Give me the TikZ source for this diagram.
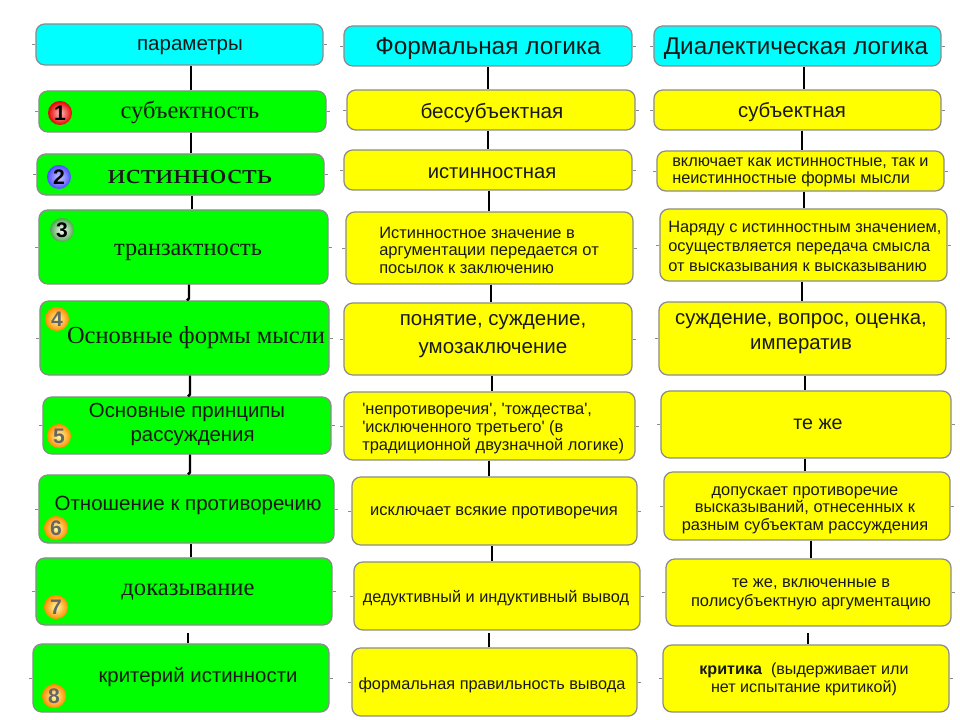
\documentclass[tikz,border=0pt]{standalone}
\usepackage{fontspec}
\setmainfont{Liberation Sans}
\newfontfamily\timescyr{Liberation Serif}
\usetikzlibrary{calc}

\newcommand{\fs}[2]{\fontsize{#1}{#2}\selectfont}

\definecolor{headcol}{RGB}{0,255,255}
\definecolor{greencol}{RGB}{0,255,0}
\definecolor{yellowcol}{RGB}{255,255,0}
\definecolor{edgecol}{RGB}{140,140,140}

\tikzset{
  box/.style={draw=edgecol, line width=0.9pt, rounded corners=0.22cm, inner sep=0pt},
  headbox/.style={box, fill=headcol},
  greenbox/.style={box, fill=greencol},
  yellowbox/.style={box, fill=yellowcol},
  lbl/.style={inner sep=0pt, align=center, text=black!90, yshift=-1.5pt},
  link/.style={line width=1.7pt, black},
  stub/.style={line width=0.4pt, edgecol},
  numball/.style={circle, shading=radial, minimum size=0.6cm, inner sep=0pt, font=\bfseries\fontsize{15}{15}\selectfont},
  orangeball/.style={numball, inner color=yellow!35!white, outer color=orange!90!yellow, text=black!60}
}

\begin{document}
\begin{tikzpicture}[x=0.025cm,y=-0.025cm]
\useasboundingbox (0,0) rectangle (960,720);

% first column
\node[headbox, minimum width=7.175cm, minimum height=1.025cm] (p0) at (179.5,44.5) {};
\node[greenbox, minimum width=7.175cm, minimum height=1.025cm] (p1) at (182.5,111.5) {};
\node[greenbox, minimum width=7.175cm, minimum height=1.025cm] (p2) at (180.5,174.5) {};
\node[greenbox, minimum width=7.225cm, minimum height=1.85cm] (p3) at (183.5,247) {};
\node[greenbox, minimum width=7.225cm, minimum height=1.85cm] (p4) at (184.5,338) {};
\node[greenbox, minimum width=7.2cm, minimum height=1.425cm] (p5) at (187,425.5) {};
\node[greenbox, minimum width=7.375cm, minimum height=1.7cm] (p6) at (186.5,509) {};
\node[greenbox, minimum width=7.4cm, minimum height=1.675cm] (p7) at (184,591.5) {};
\node[greenbox, minimum width=7.4cm, minimum height=1.7cm] (p8) at (181,678) {};

% second column
\node[headbox, minimum width=7.2cm, minimum height=1cm] (a0) at (488,46) {};
\node[yellowbox, minimum width=7.2cm, minimum height=1cm] (a1) at (491,110) {};
\node[yellowbox, minimum width=7.2cm, minimum height=1cm] (a2) at (488,170) {};
\node[yellowbox, minimum width=7.175cm, minimum height=1.8cm] (a3) at (489.5,248) {};
\node[yellowbox, minimum width=7.2cm, minimum height=1.8cm] (a4) at (488,339) {};
\node[yellowbox, minimum width=7.275cm, minimum height=1.7cm] (a5) at (489.5,426) {};
\node[yellowbox, minimum width=7.125cm, minimum height=1.7cm] (a6) at (494.5,511) {};
\node[yellowbox, minimum width=7.15cm, minimum height=1.7cm] (a7) at (497,596) {};
\node[yellowbox, minimum width=7.125cm, minimum height=1.7cm] (a8) at (494.5,682) {};

% third column
\node[headbox, minimum width=7.175cm, minimum height=1cm] (b0) at (797.5,46) {};
\node[yellowbox, minimum width=7.175cm, minimum height=1cm] (b1) at (797.5,110) {};
\node[yellowbox, minimum width=7.175cm, minimum height=1cm] (b2) at (800.5,171) {};
\node[yellowbox, minimum width=7.175cm, minimum height=1.8cm] (b3) at (803.5,245) {};
\node[yellowbox, minimum width=7.175cm, minimum height=1.825cm] (b4) at (802.5,338.5) {};
\node[yellowbox, minimum width=7.25cm, minimum height=1.675cm] (b5) at (806,424.5) {};
\node[yellowbox, minimum width=7.15cm, minimum height=1.7cm] (b6) at (807,506) {};
\node[yellowbox, minimum width=7.125cm, minimum height=1.675cm] (b7) at (808.5,592.5) {};
\node[yellowbox, minimum width=7.15cm, minimum height=1.675cm] (b8) at (806,678.5) {};

% small ticks at the sides
\foreach \n in {p0,p1,p2,p3,p4,p5,p6,p7,p8,a0,a1,a2,a3,a4,a5,a6,a7,a8,b0,b1,b2,b3,b4,b5,b6,b7,b8}
{
\draw[stub] (\n.west) -- ++(-3,0);
\draw[stub] (\n.east) -- ++(3,0);
}

% links between the boxes
\foreach \s/\t/\xa/\xb in {p0/p1/191/191, p1/p2/191/191, p2/p3/192/192, p3/p4/189/187, p4/p5/190/188, p5/p6/190/188, p6/p7/191/191,
  a0/a1/488/488, a1/a2/488/488, a2/a3/489/489, a3/a4/491/491, a4/a5/492/492, a5/a6/489/489, a6/a7/492/492,
  b0/b1/804/804, b1/b2/802/802, b2/b3/804/804, b3/b4/802/802, b4/b5/805/805, b5/b6/805/805, b6/b7/811/811}
  \draw[link] (\s.south -| \xa,0) -- ($(\t.north -| \xa,0)+(0,-2)$) -- (\t.north -| \xb,0);
\draw[link] (p8.north -| 188,0) -- ++(0,-10);
\draw[link] (a8.north -| 489,0) -- ++(0,-14);
\draw[link] (b8.north -| 808,0) -- ++(0,-11);

% numbers
\node[numball, inner color=red!25!white, outer color=red!90!black] (n1) at (60,113) {1};
\node[numball, inner color=blue!20!white, outer color=blue!70!white] (n2) at (59,177) {2};
\node[numball, inner color=white, outer color=green!50!black!70!white] (n3) at (62,230) {3};
\node[orangeball] (n4) at (57,319) {4};
\node[orangeball] (n5) at (59,436) {5};
\node[orangeball] (n6) at (56,528) {6};
\node[orangeball] (n7) at (56,607) {7};
\node[orangeball] (n8) at (54,696) {8};

% first column texts
\node[lbl, font=\fs{14.6}{17}] (tp0) at (190,45) {параметры};
\node[lbl, font=\timescyr\fs{17.4}{20}] (tp1) at (190,110) {субъектность};
\node[lbl, font=\timescyr\fs{20}{22}\addfontfeature{FakeStretch=1.2}] (tp2) at (190,175) {истинность};
\node[lbl, font=\timescyr\fs{17.3}{20}] (tp3) at (188,250) {транзактность};
\node[lbl, font=\timescyr\fs{17.4}{20}] (tp4) at (196,336) {Основные формы мысли};
\node[lbl, font=\fs{14.5}{17}] (tp5) at (187,422) {Основные принципы\\\ \ рассуждения};
\node[lbl, font=\fs{14.6}{17}] (tp6) at (188,503) {Отношение к противоречию};
\node[lbl, font=\timescyr\fs{17.5}{20}] (tp7) at (188,590) {доказывание};
\node[lbl, font=\fs{14.5}{17}] (tp8) at (198,675) {критерий истинности};

% second column texts
\node[lbl, font=\fs{17.35}{20}] (ta0) at (488,46) {Формальная логика};
\node[lbl, font=\fs{14.7}{17}] (ta1) at (492,111) {бессубъектная};
\node[lbl, font=\fs{14.4}{17}] (ta2) at (492,171) {истинностная};
\node[lbl, font=\fs{11.7}{12.4}, anchor=west, align=left] (ta3) at (379,248) {Истинностное значение в\\аргументации передается от\\посылок к заключению};
\node[lbl, font=\fs{14.6}{20}] (ta4) at (493,334) {понятие, суждение,\\умозаключение};
\node[lbl, font=\fs{11.7}{13}, anchor=west, align=left] (ta5) at (362,426.5) {\textquotesingle непротиворечия\textquotesingle, \textquotesingle тождества\textquotesingle,\\\textquotesingle исключенного третьего\textquotesingle\ (в\\традиционной двузначной логике)};
\node[lbl, font=\fs{11.76}{14}] (ta6) at (494,511) {исключает всякие противоречия};
\node[lbl, font=\fs{11.6}{14}] (ta7) at (496,596) {дедуктивный и индуктивный вывод};
\node[lbl, font=\fs{11.6}{14}] (ta8) at (492,683) {формальная правильность вывода};

% third column texts
\node[lbl, font=\fs{17.25}{20}] (tb0) at (796,46) {Диалектическая логика};
\node[lbl, font=\fs{14.5}{17}] (tb1) at (792,110) {субъектная};
\node[lbl, font=\fs{11.6}{12.2}, anchor=west, align=left] (tb2) at (672,170.5) {включает как истинностные, так и\\неистинностные формы мысли};
\node[lbl, font=\fs{11.64}{13.9}, anchor=west, align=left] (tb3) at (668,244) {Наряду с истинностным значением,\\осуществляется передача смысла\\от высказывания к высказыванию};
\node[lbl, font=\fs{14.5}{17.8}] (tb4) at (801,332) {суждение, вопрос, оценка,\\императив};
\node[lbl, font=\fs{14}{16}] (tb5) at (818,422) {те же};
\node[lbl, font=\fs{11.66}{12.4}] (tb6) at (805,508) {допускает противоречие\\высказываний, отнесенных к\\разным субъектам рассуждения};
\node[lbl, font=\fs{11.7}{13.5}] (tb7) at (811,592.5) {те же, включенные в\\полисубъектную аргументацию};
\node[lbl, font=\fs{11.45}{12.8}] (tb8) at (804,677) {\textbf{критика} \ (выдерживает или\\нет испытание критикой)};

\end{tikzpicture}
\end{document}
